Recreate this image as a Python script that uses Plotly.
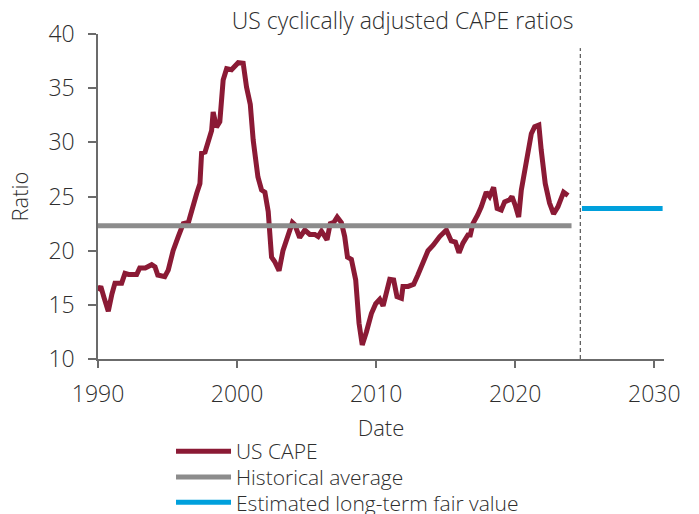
import plotly.graph_objects as go

# ---- data ----
cape_years = [
    1990.0, 1990.2, 1990.45, 1990.74, 1991.0, 1991.22, 1991.7, 1991.94, 1992.2, 1992.78,
    1993.0, 1993.4, 1993.86, 1994.1, 1994.3, 1994.8, 1995.05, 1995.4, 1995.77, 1996.13,
    1996.5, 1996.6, 1997.1, 1997.33, 1997.45, 1997.7, 1998.17, 1998.28, 1998.52, 1998.76,
    1999.0, 1999.25, 1999.6, 2000.08, 2000.44, 2000.68, 2000.95, 2001.16, 2001.5, 2001.76,
    2002.0, 2002.24, 2002.48, 2002.7, 2003.02, 2003.3, 2003.67, 2003.98, 2004.15, 2004.5,
    2004.87, 2005.23, 2005.59, 2005.83, 2006.07, 2006.47, 2006.7, 2006.95, 2007.2, 2007.5,
    2007.74, 2007.94, 2008.22, 2008.53, 2008.77, 2009.0, 2009.3, 2009.66, 2009.97, 2010.26,
    2010.5, 2010.74, 2010.98, 2011.26, 2011.5, 2011.82, 2011.93, 2012.3, 2012.7, 2013.0,
    2013.25, 2013.73, 2014.1, 2014.57, 2015.05, 2015.4, 2015.7, 2015.96, 2016.24, 2016.6,
    2016.77, 2016.96, 2017.3, 2017.56, 2017.92, 2018.16, 2018.45, 2018.7, 2019.0, 2019.24,
    2019.6, 2019.77, 2020.0, 2020.25, 2020.44, 2020.8, 2021.16, 2021.4, 2021.7, 2021.87,
    2022.16, 2022.47, 2022.76, 2023.07, 2023.48, 2023.8,
]
cape_values = [
    16.3, 16.7, 15.6, 14.4, 16.0, 17.0, 17.0, 17.9, 17.8, 17.8,
    18.4, 18.4, 18.7, 18.5, 17.75, 17.6, 18.2, 20.0, 21.3, 22.5,
    22.6, 23.1, 25.3, 26.2, 29.0, 29.1, 31.1, 32.8, 31.4, 31.9,
    35.75, 36.8, 36.7, 37.35, 37.3, 35.1, 33.5, 30.2, 26.8, 25.6,
    25.4, 23.6, 19.4, 19.0, 18.15, 20.0, 21.3, 22.6, 22.4, 21.2,
    21.9, 21.5, 21.5, 21.3, 21.8, 21.0, 22.5, 22.6, 23.1, 22.6,
    21.3, 19.4, 19.2, 17.3, 13.3, 11.3, 12.5, 14.2, 15.1, 15.5,
    14.9, 16.05, 17.35, 17.3, 15.75, 15.6, 16.7, 16.7, 16.9, 17.75,
    18.5, 20.0, 20.5, 21.3, 21.9, 20.9, 20.8, 19.8, 20.7, 21.45,
    21.45, 22.5, 23.3, 24.05, 25.4, 25.0, 25.85, 23.9, 23.75, 24.5,
    24.7, 25.0, 24.2, 23.1, 25.6, 28.1, 30.8, 31.45, 31.6, 29.3,
    26.2, 24.4, 23.4, 24.05, 25.4, 25.1,
]

hist_avg_years = [1990.0, 2024.05]
hist_avg_value = 22.3

fair_value_years = [2024.8, 2030.6]
fair_value = 23.9

forecast_start = 2024.68
forecast_line_range = [10, 38.7]

x_tickvals = [1990, 2000, 2010, 2020, 2030]
y_tickvals = [10, 15, 20, 25, 30, 35, 40]

# ---- styles ----
FONT = "Open Sans"
W = 300
TEXT = "#2e2e2e"
AXIS = "#6b6b6b"
MAROON = "#8b1a35"
GREY = "#8c8c8c"
BLUE = "#00a0dc"
LEG_FONT = dict(family=FONT, size=21, color=TEXT, weight=W)

fig = go.Figure()

fig.add_trace(go.Scatter(
    x=[forecast_start, forecast_start], y=forecast_line_range, mode="lines",
    line=dict(color="#333333", width=1, dash="4px,3px"),
    showlegend=False, hoverinfo="skip"))

fig.add_trace(go.Scatter(
    x=cape_years, y=cape_values, mode="lines", name="US CAPE",
    line=dict(color=MAROON, width=5), legend="legend"))

fig.add_trace(go.Scatter(
    x=hist_avg_years, y=[hist_avg_value] * len(hist_avg_years), mode="lines",
    name="Historical average", line=dict(color=GREY, width=5), legend="legend2"))

fig.add_trace(go.Scatter(
    x=fair_value_years, y=[fair_value] * len(fair_value_years), mode="lines",
    name="Estimated long-term fair value", line=dict(color=BLUE, width=5), legend="legend3"))

leg_common = dict(x=0.129, xanchor="left", yanchor="middle", bgcolor="rgba(0,0,0,0)",
                  font=LEG_FONT, itemwidth=55)

fig.update_layout(
    width=699, height=514,
    margin=dict(l=98, r=35, t=34, b=155, pad=0, autoexpand=False),
    paper_bgcolor="white", plot_bgcolor="white",
    font=dict(family=FONT, color=TEXT, size=20, weight=W),
    title=dict(text="US cyclically adjusted CAPE ratios", x=0.576, xanchor="center",
               y=0.96, yanchor="middle", font=dict(family=FONT, size=23, color=TEXT, weight=W)),
    showlegend=True,
    legend=dict(y=-0.285, **leg_common),
    legend2=dict(y=-0.364, **leg_common),
    legend3=dict(y=-0.442, **leg_common),
    xaxis=dict(range=[1990, 2030.7], tickvals=x_tickvals, showgrid=False, zeroline=False,
               showline=True, linecolor=AXIS, linewidth=1.5, automargin=False,
               ticks="outside", ticklen=7, tickcolor=AXIS, tickwidth=1.5,
               ticklabelstandoff=7,
               tickfont=dict(size=23, color=TEXT, weight=W),
               title=dict(text="Date", font=dict(size=22, color=TEXT, weight=W), standoff=12)),
    yaxis=dict(range=[10, 40], tickvals=y_tickvals, showgrid=False, zeroline=False,
               showline=True, linecolor=AXIS, linewidth=1.5, automargin=False,
               ticks="outside", ticklen=8, tickcolor=AXIS, tickwidth=1.5,
               ticklabelstandoff=9,
               tickfont=dict(size=23, color=TEXT, weight=W),
               title=dict(text="Ratio", font=dict(size=22, color=TEXT, weight=W), standoff=14)),
)

fig.write_html("out.html", config={"displayModeBar": False},
               post_script="document.body.style.margin='0px';")
